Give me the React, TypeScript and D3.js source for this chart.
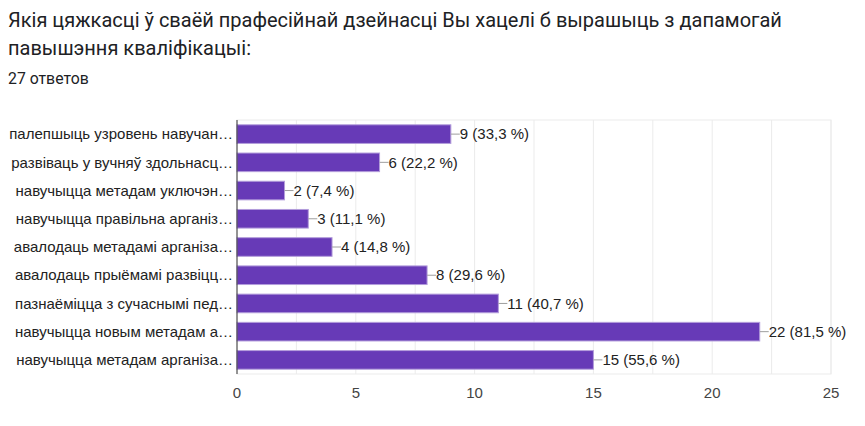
import React from "react";
import * as d3 from "d3";

const categories = [
  "палепшыць узровень навучан…",
  "развіваць у вучняў здольнасц…",
  "навучыцца метадам уключэн…",
  "навучыцца правільна арганіз…",
  "авалодаць метадамі арганіза…",
  "авалодаць прыёмамі развіцц…",
  "пазнаёміцца з сучаснымі пед…",
  "навучыцца новым метадам а…",
  "навучыцца метадам арганіза…",
];
const values = [9, 6, 2, 3, 4, 8, 11, 22, 15];
const percents = ["33,3", "22,2", "7,4", "11,1", "14,8", "29,6", "40,7", "81,5", "55,6"];
const xTicks = [0, 5, 10, 15, 20, 25];
const gridTicks = [2.5, 5, 7.5, 10, 12.5, 15, 17.5, 20, 22.5, 25];

const W = 865;
const H = 426;
const left = 237;
const right = 831;
const top = 120;
const bottom = 374;

export default function App() {
  const x = d3.scaleLinear().domain([0, 25]).range([left, right]);
  const y = d3
    .scaleBand<string>()
    .domain(categories)
    .range([top, bottom])
    .paddingInner(0.34)
    .paddingOuter(0.17);
  const labelFont = "Arial, 'Liberation Sans', sans-serif";
  return (
    <svg
      width={W}
      height={H}
      style={{ position: "absolute", left: 0, top: 0, background: "#fff" }}
    >
      <text x={8} y={27} fontFamily="Roboto, 'Open Sans', sans-serif" fontSize={20} fill="#202124">
        Якія цяжкасці ў сваёй прафесійнай дзейнасці Вы хацелі б вырашыць з дапамогай
      </text>
      <text x={8} y={55} fontFamily="Roboto, 'Open Sans', sans-serif" fontSize={20} fill="#202124">
        павышэння кваліфікацыі:
      </text>
      <text x={8} y={84} fontFamily="Roboto, sans-serif" fontSize={15.8} fill="#202124">
        27 ответов
      </text>
      <rect x={left} y={top} width={right - left} height={bottom - top} fill="none" stroke="#ebebeb" />
      {gridTicks.map((t) => (
        <line key={t} x1={x(t)} x2={x(t)} y1={top} y2={bottom} stroke="#ebebeb" strokeWidth={1} />
      ))}
      {categories.map((c, i) => {
        const by = y(c)!;
        const bh = y.bandwidth();
        const xe = x(values[i]);
        const cy = by + bh / 2;
        return (
          <g key={c}>
            <rect
              x={x(0)}
              y={by}
              width={xe - x(0)}
              height={bh}
              fill="#673ab7"
              stroke="#b39ddb"
              strokeWidth={1}
            />
            <line x1={xe} x2={xe + 9} y1={cy} y2={cy} stroke="#9e9e9e" strokeWidth={1} />
            <text x={xe + 9} y={cy} dy="0.35em" fontFamily={labelFont} fontSize={15} fill="#222">
              {values[i]} ({percents[i]} %)
            </text>
            <text
              x={left - 4}
              y={cy}
              dy="0.35em"
              textAnchor="end"
              fontFamily={labelFont}
              fontSize={15}
              fill="#222"
            >
              {c}
            </text>
          </g>
        );
      })}
      <line x1={left} x2={left} y1={top} y2={bottom} stroke="#333" strokeWidth={1} />
      {xTicks.map((t) => (
        <text
          key={t}
          x={x(t)}
          y={398}
          textAnchor="middle"
          fontFamily={labelFont}
          fontSize={15}
          fill="#444"
        >
          {t}
        </text>
      ))}
    </svg>
  );
}
